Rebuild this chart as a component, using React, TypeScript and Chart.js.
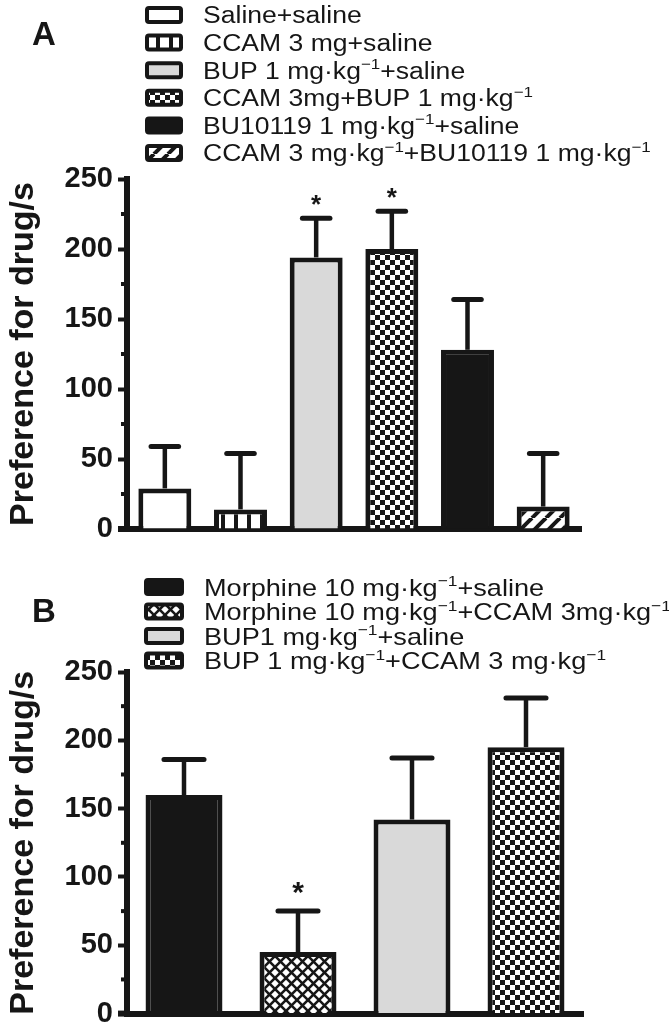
import React, { useEffect, useRef } from 'react';
import { Chart, registerables } from 'chart.js';

Chart.register(...registerables);

// ---------------- data ----------------
const labelsA = [
  'Saline+saline',
  'CCAM 3 mg+saline',
  'BUP 1 mg·kg⁻¹+saline',
  'CCAM 3mg+BUP 1 mg·kg⁻¹',
  'BU10119 1 mg·kg⁻¹+saline',
  'CCAM 3 mg·kg⁻¹+BU10119 1 mg·kg⁻¹',
];
const meansA = [29, 14, 194, 200, 128, 16];
const semA = [30, 40, 28, 27, 36, 38];
const sigA = [false, false, true, true, false, false];
const fillsA = ['white', 'vstripe', 'gray', 'checker', 'black', 'diag'];

const labelsB = [
  'Morphine 10 mg·kg⁻¹+saline',
  'Morphine 10 mg·kg⁻¹+CCAM 3mg·kg⁻¹',
  'BUP1 mg·kg⁻¹+saline',
  'BUP 1 mg·kg⁻¹+CCAM 3 mg·kg⁻¹',
];
const meansB = [160, 45, 142, 195];
const semB = [26, 30, 45, 36];
const sigB = [false, true, false, false];
const fillsB = ['black', 'cross', 'gray', 'checker'];

const yMin = 0;
const yMax = 250;
const yStep = 25;
const yMajor = 50;
const yTitle = 'Preference for drug/s';

// ---------------- styles ----------------
const INK = '#161616';
const FAMILY = '"Liberation Sans", Arial, Helvetica, sans-serif';

function makeFill(kind: string): any {
  if (kind === 'white') return '#ffffff';
  if (kind === 'gray') return '#d9d9d9';
  if (kind === 'black') return INK;
  const c = document.createElement('canvas');
  const g = c.getContext('2d')!;
  if (kind === 'vstripe') {
    c.width = 13; c.height = 4;
    g.fillStyle = '#fff'; g.fillRect(0, 0, 13, 4);
    g.fillStyle = INK; g.fillRect(0, 0, 4, 4);
  } else if (kind === 'checker') {
    const s = 5;
    c.width = 2 * s; c.height = 2 * s;
    g.fillStyle = '#fff'; g.fillRect(0, 0, 2 * s, 2 * s);
    g.fillStyle = INK; g.fillRect(0, 0, s, s); g.fillRect(s, s, s, s);
  } else if (kind === 'diag') {
    const s = 14;
    c.width = s; c.height = s;
    g.fillStyle = '#fff'; g.fillRect(0, 0, s, s);
    g.strokeStyle = INK; g.lineWidth = 4;
    for (const k of [-s, 0, s]) {
      g.beginPath(); g.moveTo(k, s); g.lineTo(k + s, 0); g.stroke();
    }
  } else if (kind === 'cross') {
    const s = 11;
    c.width = s; c.height = s;
    g.fillStyle = '#fff'; g.fillRect(0, 0, s, s);
    g.strokeStyle = INK; g.lineWidth = 2.6;
    for (const k of [-s, 0, s]) {
      g.beginPath(); g.moveTo(k, s); g.lineTo(k + s, 0); g.stroke();
      g.beginPath(); g.moveTo(k, 0); g.lineTo(k + s, s); g.stroke();
    }
  }
  return g.createPattern(c, 'repeat');
}

// draws text, rendering ⁻ and ¹ as raised small glyphs
function drawRich(ctx: CanvasRenderingContext2D, text: string, x: number, yMid: number, size: number, sx: number) {
  ctx.save();
  ctx.translate(x, yMid);
  ctx.scale(sx, 1);
  ctx.textAlign = 'left';
  ctx.textBaseline = 'alphabetic';
  ctx.fillStyle = INK;
  const base = size * 0.36;
  const runs: { t: string; sup: boolean }[] = [];
  for (const ch of text) {
    const sup = ch === '⁻' || ch === '¹';
    const g = ch === '⁻' ? '−' : ch === '¹' ? '1' : ch;
    const last = runs[runs.length - 1];
    if (last && last.sup === sup) last.t += g; else runs.push({ t: g, sup });
  }
  let cx = 0;
  for (const r of runs) {
    ctx.font = `${r.sup ? size * 0.64 : size}px ${FAMILY}`;
    ctx.fillText(r.t, cx, base - (r.sup ? size * 0.4 : 0));
    cx += ctx.measureText(r.t).width;
  }
  ctx.restore();
}

type Panel = {
  letter: string;
  letterY: number;
  labels: string[];
  means: number[];
  sems: number[];
  sig: boolean[];
  fills: string[];
  canvasH: number;
  pad: { top: number; bottom: number; right: number };
  barPct: number;
  legendY0: number;
  legendDy: number;
  boxX: number;
  boxW: number;
  textX: number;
  textSize: number;
  starSize: number;
  starGap: number;
};

function decorPlugin(p: Panel, fills: any[]) {
  return {
    id: 'decor' + p.letter,
    afterDatasetsDraw(chart: any) {
      const ctx: CanvasRenderingContext2D = chart.ctx;
      const ys = chart.scales.y;
      const meta = chart.getDatasetMeta(0);
      ctx.save();
      ctx.strokeStyle = INK;
      ctx.fillStyle = INK;
      p.means.forEach((m, i) => {
        const bar = meta.data[i];
        const x = bar.x;
        const w = bar.width;
        const yb = ys.getPixelForValue(m);
        const yt = ys.getPixelForValue(m + p.sems[i]);
        ctx.lineCap = 'butt';
        ctx.lineWidth = 4.5;
        ctx.beginPath(); ctx.moveTo(x, yb); ctx.lineTo(x, yt); ctx.stroke();
        const half = w * 0.26;
        ctx.lineWidth = 5;
        ctx.lineCap = 'round';
        ctx.beginPath(); ctx.moveTo(x - half, yt); ctx.lineTo(x + half, yt); ctx.stroke();
        if (p.sig[i]) {
          ctx.font = `bold ${p.starSize}px ${FAMILY}`;
          ctx.textAlign = 'center';
          ctx.textBaseline = 'alphabetic';
          ctx.fillText('*', x, yt - p.starGap + p.starSize * 0.57);
        }
      });
      ctx.restore();
    },
    afterDraw(chart: any) {
      const ctx: CanvasRenderingContext2D = chart.ctx;
      const ys = chart.scales.y;
      const area = chart.chartArea;
      ctx.save();
      ctx.fillStyle = INK;
      // axis corner + extension of baseline to the left
      ctx.fillRect(area.left - 9, area.bottom - 3, 12, 6);
      ctx.fillRect(area.left - 3, area.top - 2, 6, 4);
      // minor ticks
      for (let v = yMin + yStep; v < yMax; v += yMajor) {
        const y = ys.getPixelForValue(v);
        ctx.fillRect(area.left - 6, y - 2, 3, 4);
      }
      // panel letter
      ctx.font = `bold 33px ${FAMILY}`;
      ctx.textAlign = 'left';
      ctx.textBaseline = 'alphabetic';
      ctx.fillText(p.letter, 32, p.letterY);
      // legend
      p.labels.forEach((label, i) => {
        const cy = p.legendY0 + i * p.legendDy;
        const bh = 18;
        const top = cy - bh / 2;
        ctx.fillStyle = fills[i];
        ctx.fillRect(p.boxX + 2, top + 2, p.boxW - 4, bh - 4);
        ctx.strokeStyle = INK;
        ctx.lineWidth = 4;
        ctx.lineJoin = 'round';
        ctx.beginPath();
        (ctx as any).roundRect(p.boxX + 2, top + 2, p.boxW - 4, bh - 4, 2);
        ctx.stroke();
        drawRich(ctx, label, p.textX, cy, p.textSize, 1.13);
      });
      ctx.restore();
    },
  };
}

function buildConfig(p: Panel): any {
  const fills = p.fills.map(makeFill);
  return {
    type: 'bar',
    data: {
      labels: p.labels,
      datasets: [
        {
          data: p.means,
          backgroundColor: fills,
          borderColor: INK,
          borderWidth: 5,
          barPercentage: p.barPct,
          categoryPercentage: 1,
        },
      ],
    },
    options: {
      responsive: false,
      animation: false,
      devicePixelRatio: 1,
      events: [],
      layout: { padding: { left: 0, right: p.pad.right, top: p.pad.top, bottom: p.pad.bottom } },
      plugins: { legend: { display: false }, tooltip: { enabled: false } },
      scales: {
        x: {
          grid: { display: false, drawTicks: false },
          ticks: { display: false },
          border: { display: true, color: INK, width: 6 },
          afterFit: (s: any) => { s.height = 0; },
        },
        y: {
          min: yMin,
          max: yMax,
          ticks: {
            stepSize: yStep,
            autoSkip: false,
            callback: (v: any) => (Number(v) % yMajor === 0 ? String(v) : ''),
            font: { family: FAMILY, size: 29, weight: 'bold' },
            color: INK,
            padding: 5,
          },
          grid: {
            drawOnChartArea: false,
            drawTicks: true,
            tickLength: 9,
            tickWidth: 4,
            tickColor: (c: any) => (c.tick && Number(c.tick.value) % yMajor === 0 ? INK : 'rgba(0,0,0,0)'),
          },
          border: { display: true, color: INK, width: 6 },
          title: {
            display: true,
            text: yTitle,
            color: INK,
            font: { family: FAMILY, size: 34, weight: 'bold' },
            padding: { top: 3, bottom: 0 },
          },
          afterFit: (s: any) => { s.width = 127; },
        },
      },
    },
    plugins: [decorPlugin(p, fills)],
  };
}

const panelA: Panel = {
  letter: 'A', letterY: 45,
  labels: labelsA, means: meansA, sems: semA, sig: sigA, fills: fillsA,
  canvasH: 560,
  pad: { top: 179, bottom: 31, right: 88 },
  barPct: 0.7,
  legendY0: 15, legendDy: 27.6,
  boxX: 145, boxW: 38, textX: 203, textSize: 23.5,
  starSize: 26, starGap: 20,
};

const panelB: Panel = {
  letter: 'B', letterY: 62,
  labels: labelsB, means: meansB, sems: semB, sig: sigB, fills: fillsB,
  canvasH: 476,
  pad: { top: 112, bottom: 14, right: 86 },
  barPct: 0.675,
  legendY0: 27, legendDy: 24.5,
  boxX: 144, boxW: 40, textX: 204, textSize: 24,
  starSize: 30, starGap: 26,
};

export default function App() {
  const refA = useRef<HTMLCanvasElement>(null);
  const refB = useRef<HTMLCanvasElement>(null);
  useEffect(() => {
    const a = new Chart(refA.current!, buildConfig(panelA));
    const b = new Chart(refB.current!, buildConfig(panelB));
    return () => { a.destroy(); b.destroy(); };
  }, []);
  return (
    <div style={{ position: 'absolute', left: 0, top: 0, width: 669, height: 1036, background: '#fff', overflow: 'hidden' }}>
      <canvas ref={refA} width={669} height={panelA.canvasH}
        style={{ position: 'absolute', left: 0, top: 0, width: 669, height: panelA.canvasH }} />
      <canvas ref={refB} width={669} height={panelB.canvasH}
        style={{ position: 'absolute', left: 0, top: panelA.canvasH, width: 669, height: panelB.canvasH }} />
    </div>
  );
}
